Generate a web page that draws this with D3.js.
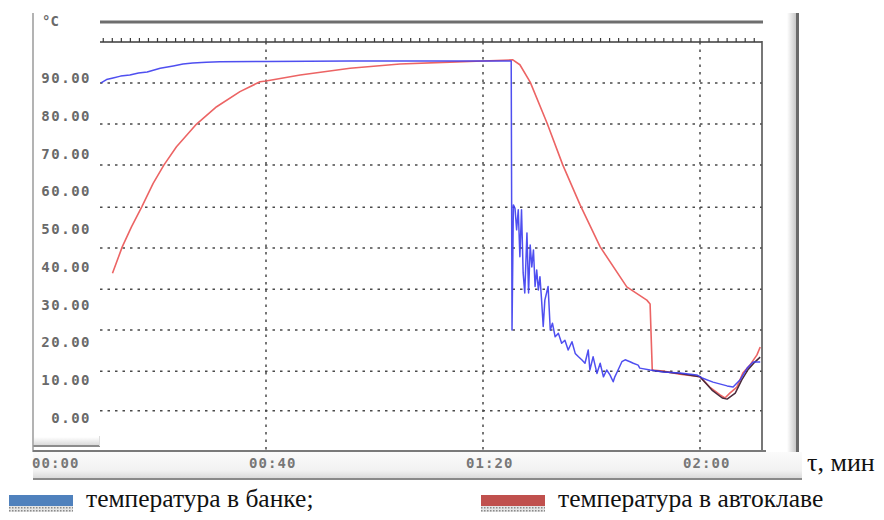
<!DOCTYPE html>
<html><head><meta charset="utf-8">
<script src="https://cdn.jsdelivr.net/npm/d3@7"></script>
<style>body{margin:0;background:#fff}svg{display:block}</style>
</head><body>
<svg id="c" width="884" height="520"></svg>
<script>
// ---- data ----
const yTickValues = [0,10,20,30,40,50,60,70,80,90];
const gridValues = [88.7,77.8,67.0,55.8,45.0,34.1,23.3,12.4,1.9];
const xTickValues = [0,40,80,120];
const xTickLabels = ["00:00","00:40","01:20","02:00"];
const stripTickStep = 40/24;

const bankTime = [9.6,10.6,11.8,13.2,14.9,16.5,18.1,20.5,22.9,24.7,26.5,29.0,31.5,40.2,55.5,73.9,85.2,85.35,85.6,85.9,86.2,86.5,86.8,87.1,87.4,87.7,88.1,88.4,88.7,89.0,89.3,89.6,89.9,90.2,90.5,90.8,91.1,91.4,92.0,92.4,92.8,93.3,93.9,94.5,95.1,95.7,96.4,97.0,97.6,98.2,98.8,99.4,99.7,100.3,101.0,101.6,102.2,102.8,103.4,104.0,104.3,104.9,105.6,106.2,107.1,107.7,108.6,108.9,110.8,113.2,116.3,119.4,120.4,122.4,125.0,126.1,127.4,128.7,129.8,131.1];
const bankTemp = [88.7,89.6,90.0,90.5,90.8,91.3,91.6,92.6,93.2,93.7,94.0,94.2,94.3,94.4,94.5,94.5,94.5,23.3,56.4,55.5,49.8,55.1,42.7,55.1,38.4,33.1,49.0,33.1,45.8,40.0,44.5,34.8,39.2,33.9,37.4,31.2,24.2,31.2,34.8,23.3,25.1,21.5,22.4,19.8,20.6,18.0,20.2,17.1,16.2,15.4,14.5,18.0,12.7,16.2,11.8,14.5,10.9,12.7,11.4,9.6,10.9,12.7,14.9,15.4,14.9,14.5,14.0,13.2,12.7,12.2,11.9,11.4,10.6,9.5,8.5,8.2,10.1,13.2,14.8,14.8];

const autoclaveTime = [11.7,13.5,15.2,17.1,19.2,21.2,23.5,27.2,30.9,35.2,38.9,40.0,46.3,55.5,64.7,73.9,80.0,85.5,86.8,88.7,91.8,94.7,97.9,101.6,106.5,110.2,110.8,111.2,113.2,116.3,120.0,121.8,123.7,124.6,125.5,126.8,127.9,129.2,130.5,131.1];
const autoclaveTemp = [38.3,45.3,50.6,55.9,62.1,67.0,71.8,77.8,82.4,86.4,89.0,89.2,90.8,92.6,93.7,94.2,94.5,94.8,93.5,88.9,78.1,67.0,56.4,45.3,34.7,31.2,30.2,12.7,12.4,11.6,10.9,8.2,6.1,5.3,6.6,8.2,11.9,14.0,16.7,18.8];

const probeTime = [111.2,116.3,120.0,122.2,124.1,125.0,126.5,127.7,128.8,130.1,131.1];
const probeTemp = [12.6,11.8,10.9,7.4,5.3,5.0,6.6,10.1,12.7,14.8,16.1];

const legendLabels = ["температура в банке;","температура в автоклаве"];
const axisUnitY = "°C";
const axisUnitX = "τ, мин";

// ---- layout ----
const svg = d3.select("#c");
const plotL = 100, plotR = 762, plotT = 42, plotB = 451;
const x = d3.scaleLinear().domain([0,120]).range([49,700]);
const y = d3.scaleLinear().domain([0,90]).range([418,78]);

const defs = svg.append("defs");
const gBand = defs.append("linearGradient").attr("id","band").attr("x1",0).attr("x2",0).attr("y1",0).attr("y2",1);
gBand.append("stop").attr("offset","0%").attr("stop-color","#fbfbfb");
gBand.append("stop").attr("offset","70%").attr("stop-color","#f1f1f1");
gBand.append("stop").attr("offset","100%").attr("stop-color","#d8d8d8");
const gSide = defs.append("linearGradient").attr("id","side").attr("x1",0).attr("x2",1).attr("y1",0).attr("y2",0);
gSide.append("stop").attr("offset","0%").attr("stop-color","#ffffff");
gSide.append("stop").attr("offset","100%").attr("stop-color","#c8c8c8");
const gLeftBot = defs.append("linearGradient").attr("id","leftbot").attr("x1",0).attr("x2",0).attr("y1",0).attr("y2",1);
gLeftBot.append("stop").attr("offset","0%").attr("stop-color","#ffffff");
gLeftBot.append("stop").attr("offset","100%").attr("stop-color","#d6d6d6");
const hatch = defs.append("pattern").attr("id","hatch").attr("width",3).attr("height",3).attr("patternUnits","userSpaceOnUse");
hatch.append("rect").attr("width",3).attr("height",3).attr("fill","#e4e4e4");
hatch.append("rect").attr("width",1.5).attr("height",1.5).attr("fill","#8a8a8a");

// label band under the plot
svg.append("rect").attr("x",33).attr("y",452).attr("width",769).attr("height",27).attr("fill","url(#band)");
svg.append("line").attr("x1",33).attr("x2",802).attr("y1",479).attr("y2",479).attr("stroke","#8a8a8a").attr("stroke-width",2);

// left-bottom small panel
svg.append("rect").attr("x",34).attr("y",437).attr("width",66).attr("height",9).attr("fill","url(#leftbot)");
svg.append("line").attr("x1",33).attr("x2",100).attr("y1",446).attr("y2",446).attr("stroke","#8c8c8c").attr("stroke-width",2);
svg.append("line").attr("x1",99.5).attr("x2",99.5).attr("y1",436).attr("y2",446).attr("stroke","#dddddd").attr("stroke-width",1);

// right side bar
svg.append("rect").attr("x",787).attr("y",13).attr("width",9).attr("height",439).attr("fill","url(#side)");
svg.append("line").attr("x1",797.5).attr("x2",797.5).attr("y1",13).attr("y2",452).attr("stroke","#6a6a6a").attr("stroke-width",3);

// left border
svg.append("line").attr("x1",33).attr("x2",33).attr("y1",13).attr("y2",452).attr("stroke","#9a9a9a").attr("stroke-width",1.5);

// top thick line
svg.append("line").attr("x1",plotL).attr("x2",plotR+1).attr("y1",22).attr("y2",22).attr("stroke","#6e6e6e").attr("stroke-width",3);

// strip line + small ticks
svg.append("line").attr("x1",plotL).attr("x2",plotR).attr("y1",plotT).attr("y2",plotT).attr("stroke","#3a3a3a").attr("stroke-width",1.5);
const stripTicks = d3.range(0, 135, stripTickStep).filter(t => x(t) >= plotL && x(t) <= plotR + 0.5);
svg.append("g").selectAll("line").data(stripTicks).join("line")
  .attr("x1",d=>x(d)).attr("x2",d=>x(d)).attr("y1",plotT-4).attr("y2",plotT)
  .attr("stroke","#3a3a3a").attr("stroke-width",1.2);

// grid
const grid = svg.append("g").attr("stroke","#4a4a4a").attr("stroke-width",1.5).attr("stroke-dasharray","2.5,5");
grid.selectAll("line.h").data(gridValues).join("line").attr("class","h")
  .attr("x1",plotL).attr("x2",plotR).attr("y1",d=>y(d)).attr("y2",d=>y(d));
grid.selectAll("line.v").data(xTickValues.slice(1)).join("line").attr("class","v")
  .attr("x1",d=>x(d)).attr("x2",d=>x(d)).attr("y1",plotT).attr("y2",plotB);

// plot right and bottom edges
svg.append("line").attr("x1",plotR).attr("x2",plotR).attr("y1",plotT-1).attr("y2",plotB).attr("stroke","#555").attr("stroke-width",1.6);
svg.append("line").attr("x1",33).attr("x2",766).attr("y1",plotB).attr("y2",plotB).attr("stroke","#7a7a7a").attr("stroke-width",2);

// y labels
const labelFont = "'DejaVu Sans Mono', monospace";
svg.append("g").selectAll("text").data(yTickValues).join("text")
  .attr("x",91).attr("y",d=>y(d)).attr("dy","0.36em").attr("text-anchor","end")
  .attr("font-family",labelFont).attr("font-weight","bold").attr("font-size",14)
  .attr("letter-spacing",1.5).attr("fill","#6a6a6a").text(d=>d.toFixed(2));
svg.append("text").attr("x",42).attr("y",21).attr("dy","0.36em")
  .attr("font-family",labelFont).attr("font-weight","bold").attr("font-size",14)
  .attr("fill","#6a6a6a").text(axisUnitY);

// x labels
svg.append("g").selectAll("text").data(xTickValues).join("text")
  .attr("x",d=>x(d)-17).attr("y",463).attr("dy","0.36em")
  .attr("font-family",labelFont).attr("font-weight","bold").attr("font-size",14)
  .attr("letter-spacing",1.1).attr("fill","#777").text((d,i)=>xTickLabels[i]);

// series
const line = d3.line().x(d=>x(d[0])).y(d=>y(d[1]));
const clip = defs.append("clipPath").attr("id","plotclip");
clip.append("rect").attr("x",plotL).attr("y",plotT).attr("width",plotR-plotL).attr("height",plotB-plotT);
const series = svg.append("g").attr("clip-path","url(#plotclip)").attr("fill","none").attr("stroke-linejoin","round");
series.append("path").datum(d3.zip(autoclaveTime, autoclaveTemp)).attr("d",line).attr("stroke","#ec6464").attr("stroke-width",1.6);
series.append("path").datum(d3.zip(probeTime, probeTemp)).attr("d",line).attr("stroke","#4a2a3c").attr("stroke-width",1.5);
series.append("path").datum(d3.zip(bankTime, bankTemp)).attr("d",line).attr("stroke","#3c3cee").attr("stroke-width",1.5).attr("stroke-opacity",0.9);

// axis unit
svg.append("text").attr("x",807).attr("y",471).attr("font-family","'Liberation Serif', 'Times New Roman', serif")
  .attr("font-size",26).attr("fill","#111").text(axisUnitX);

// legend
const legendColors = ["#4f81bd","#c0504d"];
const legendX = [9, 481];
const lg = svg.append("g").selectAll("g").data(legendLabels).join("g")
  .attr("transform",(d,i)=>`translate(${legendX[i]},0)`);
lg.append("rect").attr("x",0).attr("y",495).attr("width",64).attr("height",11).attr("fill",(d,i)=>legendColors[i]);
lg.append("rect").attr("x",0).attr("y",506).attr("width",64).attr("height",6).attr("fill","url(#hatch)");
lg.append("text").attr("x",77).attr("y",507).attr("font-family","'Liberation Serif', 'Times New Roman', serif")
  .attr("font-size",25.5).attr("fill","#111").text(d=>d);
</script>
</body></html>
